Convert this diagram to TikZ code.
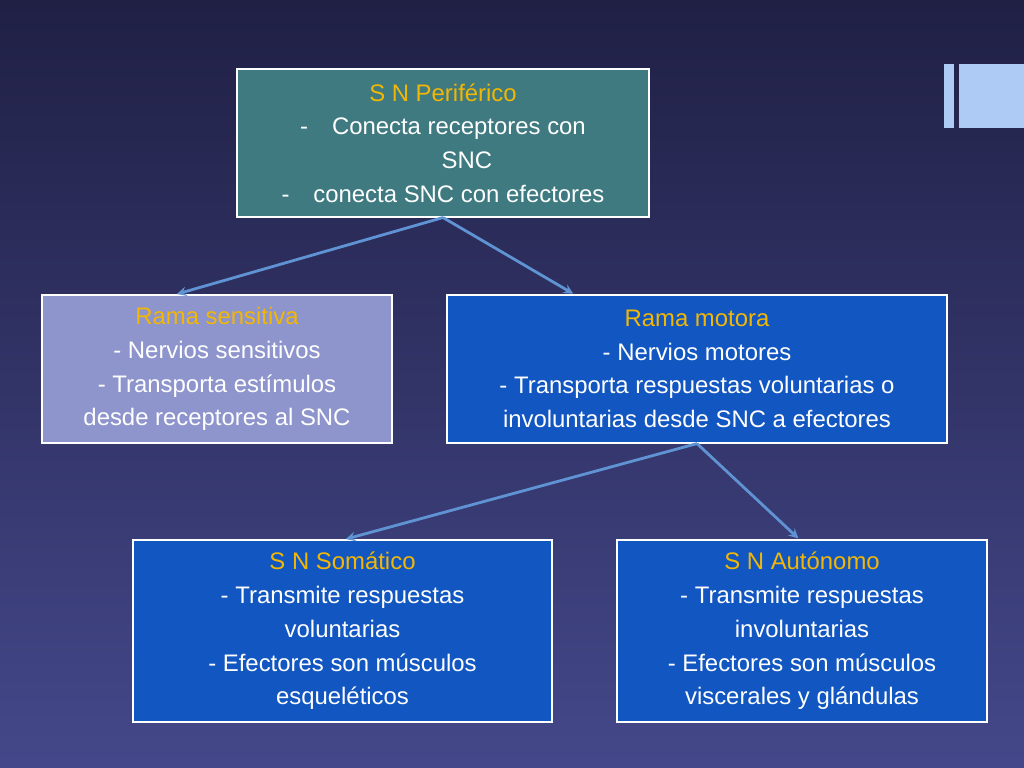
\documentclass[tikz,border=0pt]{standalone}
\usepackage{fontspec}
\setmainfont{Liberation Sans}
\usetikzlibrary{positioning}
\definecolor{bgtop}{HTML}{202045}
\definecolor{bgbot}{HTML}{44488A}
\definecolor{tealbox}{HTML}{3E7A80}
\definecolor{lilabox}{HTML}{8E94CC}
\definecolor{bluebox}{HTML}{1156C1}
\definecolor{titulo}{HTML}{F2B705}
\definecolor{flecha}{HTML}{5F93D3}
\definecolor{barra}{HTML}{AECBF5}
\begin{document}
\begin{tikzpicture}[x=0.025cm, y=-0.025cm, >=stealth,
  caja/.style={draw=white, line width=0.8pt, text=white, align=center, inner sep=0pt,
    font=\fontsize{17}{24}\selectfont},
  conector/.style={->, draw=flecha, line width=2pt, shorten >=1pt}]
  % fondo
  \shade[top color=bgtop, bottom color=bgbot] (0,0) rectangle (1024,768);
  \useasboundingbox (0,0) rectangle (1024,768);
  \fill[barra] (944,64) rectangle (954,128);
  \fill[barra] (959,64) rectangle (1024,128);

  % cajas
  \node[caja, fill=tealbox, minimum width=412*0.025cm, minimum height=148*0.025cm] (per) at (443,143)
    {{\color{titulo}S N Periférico}\\
     -\quad Conecta receptores con\\ \hspace*{2em}SNC\\
     -\quad conecta SNC con efectores};
  \node[caja, fill=lilabox, minimum width=350*0.025cm, minimum height=148*0.025cm] (sens) at (217,369)
    {{\color{titulo}Rama sensitiva}\\ - Nervios sensitivos\\ - Transporta estímulos\\ desde receptores al SNC};
  \node[caja, fill=bluebox, minimum width=500*0.025cm, minimum height=148*0.025cm] (mot) at (697,369)
    {{\color{titulo}Rama motora}\\ - Nervios motores\\ - Transporta respuestas voluntarias o\\ involuntarias desde SNC a efectores};
  \node[caja, fill=bluebox, minimum width=419*0.025cm, minimum height=182*0.025cm] (som) at (342.5,631)
    {{\color{titulo}S N Somático}\\ - Transmite respuestas\\ voluntarias\\ - Efectores son músculos\\ esqueléticos};
  \node[caja, fill=bluebox, minimum width=370*0.025cm, minimum height=182*0.025cm] (aut) at (802,631)
    {{\color{titulo}S N Autónomo}\\ - Transmite respuestas\\ involuntarias\\ - Efectores son músculos\\ viscerales y glándulas};

  % flechas
  \draw[conector] (per.south) -- ([xshift=-217*0.025cm]sens.north east);
  \draw[conector] (per.south) -- ([xshift=128*0.025cm]mot.north west);
  \draw[conector] (mot.south) -- ([xshift=212*0.025cm]som.north west);
  \draw[conector] (mot.south) -- ([xshift=183*0.025cm]aut.north west);
\end{tikzpicture}
\end{document}
